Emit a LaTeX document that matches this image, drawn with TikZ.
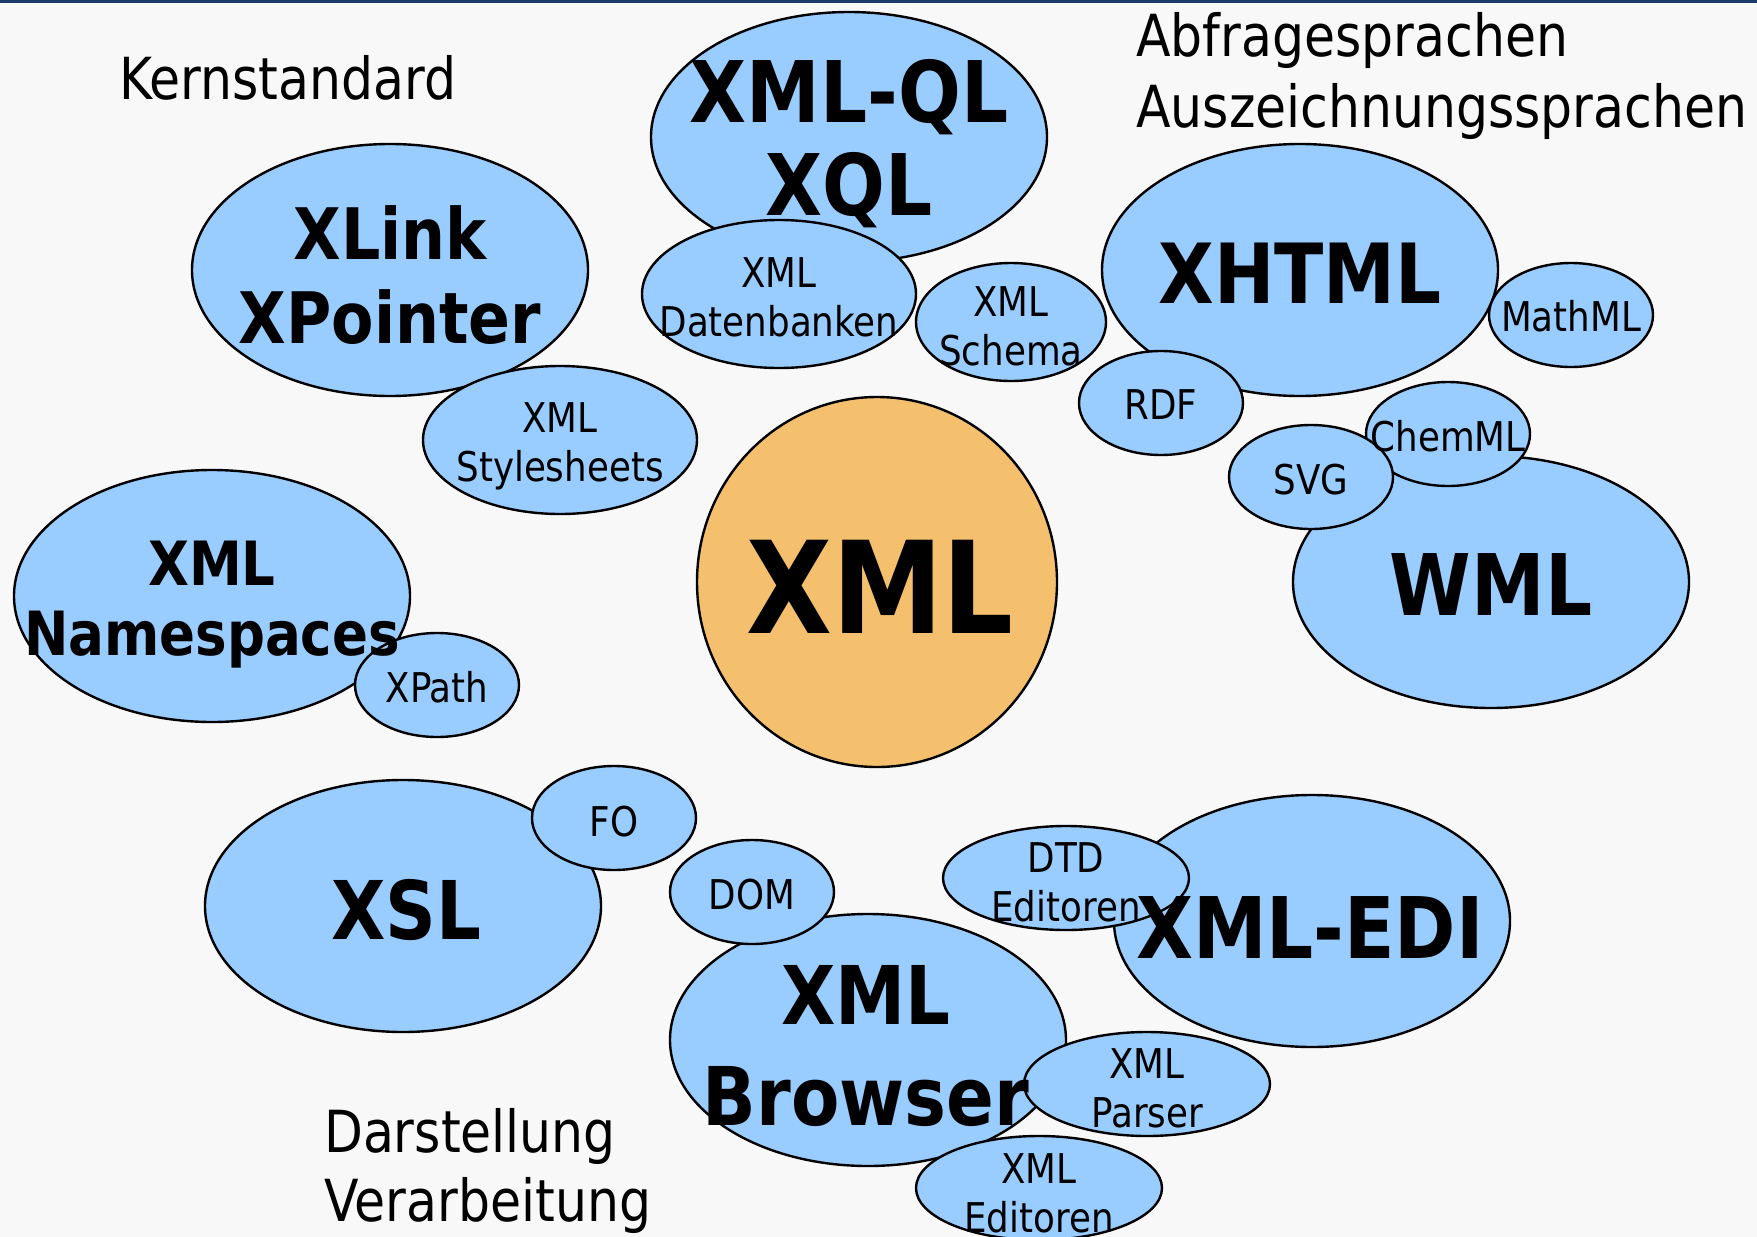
\documentclass[tikz,border=0pt]{standalone}
\usepackage{fontspec}
\setmainfont{DejaVu Sans}[FakeStretch=0.87]
\usetikzlibrary{shapes.geometric}
\definecolor{bubbleblue}{HTML}{99CCFF}
\definecolor{coreorange}{HTML}{F5C06E}
\definecolor{bgcol}{HTML}{F8F8F8}
\definecolor{topline}{HTML}{1C3C6C}
\tikzset{
  bubble/.style={ellipse, draw=black, line width=2.4pt, fill=bubbleblue, inner sep=0pt},
  bigtxt/.style={font=\bfseries\fontsize{83}{93}\selectfont, align=center, inner sep=0pt},
  smalltxt/.style={font=\fontsize{41}{49}\selectfont, align=center, inner sep=0pt},
  cattxt/.style={font=\fontsize{58}{71}\selectfont, inner sep=0pt, anchor=base west},
}
\newcommand{\bub}[5]{\node[bubble,#5, minimum width=#3pt, minimum height=#4pt] (#1) at (#2) {};}
\begin{document}
\begin{tikzpicture}[x=1pt,y=-1pt]
\useasboundingbox (0,0) rectangle (1757,1237);
\clip (0,0) rectangle (1757,1237);
\fill[bgcol] (0,0) rectangle (1757,1237);
\fill[topline] (0,0) rectangle (1757,3);
% ellipses (back to front)
\bub{xmlql}{849,137}{396}{250}{}
\bub{datenbanken}{779,294}{274}{148}{}
\bub{xlink}{390,270}{396}{252}{}
\bub{stylesheets}{560,440}{274}{148}{}
\bub{schema}{1011,322}{190}{118}{}
\bub{xhtml}{1300,270}{396}{252}{}
\bub{mathml}{1571,315}{164}{104}{}
\bub{rdf}{1161,403}{164}{104}{}
\bub{wml}{1491,582}{396}{252}{}
\bub{chemml}{1448,434}{164}{104}{}
\bub{svg}{1311,477}{164}{104}{}
\bub{xml}{877,582}{360}{370}{fill=coreorange}
\bub{namespaces}{212,596}{396}{252}{}
\bub{xpath}{437,685}{164}{104}{}
\bub{xsl}{403,906}{396}{252}{}
\bub{fo}{614,818}{164}{104}{}
\bub{browser}{868,1040}{396}{252}{}
\bub{dom}{752,892}{164}{104}{}
\bub{edi}{1312,921}{396}{252}{}
\bub{dtd}{1066,878}{246}{104}{}
\bub{parser}{1147,1084}{246}{104}{}
\bub{editoren}{1039,1188}{246}{104}{}
% labels
\node[bigtxt,font=\bfseries\fontsize{85}{93}\selectfont] (t-xmlql) at (849,144) {XML-QL\\XQL};
\node[bigtxt,font=\bfseries\fontsize{71}{84}\selectfont] (t-xlink) at (390,275) {XLink\\XPointer};
\node[bigtxt] (t-xhtml) at (1300,273) {XHTML};
\node[bigtxt,font=\bfseries\fontsize{85}{93}\selectfont] (t-wml) at (1491,585) {WML};
\node[bigtxt,font=\bfseries\fontsize{128}{130}\selectfont] (t-xml) at (880,587) {XML};
\node[bigtxt,font=\bfseries\fontsize{61}{70}\selectfont] (t-ns) at (212,605) {XML\\Namespaces};
\node[bigtxt,font=\bfseries\fontsize{81}{101}\selectfont] (t-browser) at (866,1046) {XML\\Browser};
\node[bigtxt,font=\bfseries\fontsize{81}{93}\selectfont] (t-xsl) at (406,910) {XSL};
\node[bigtxt,font=\bfseries\fontsize{85}{93}\selectfont] (t-edi) at (1310,928) {XML-EDI};
\node[smalltxt] (t-db) at (779,297) {XML\\Datenbanken};
\node[smalltxt] (t-ss) at (560,446) {XML\\Stylesheets};
\node[smalltxt] (t-schema) at (1011,326) {XML\\Schema};
\node[smalltxt] (t-mathml) at (1571,316) {MathML};
\node[smalltxt] (t-rdf) at (1161,405) {RDF};
\node[smalltxt] (t-chemml) at (1448,436) {ChemML};
\node[smalltxt] (t-svg) at (1311,480) {SVG};
\node[smalltxt] (t-xpath) at (437,687) {XPath};
\node[smalltxt] (t-fo) at (614,822) {FO};
\node[smalltxt] (t-dom) at (752,895) {DOM};
\node[smalltxt] (t-dtd) at (1066,882) {DTD\\Editoren};
\node[smalltxt] (t-parser) at (1147,1088) {XML\\Parser};
\node[smalltxt] (t-editoren) at (1039,1193) {XML\\Editoren};
% category labels
\node[cattxt] (kern) at (119,99) {Kernstandard};
\node[cattxt] (abf) at (1136,56) {Abfragesprachen};
\node[cattxt] (ausz) at (1136,127) {Auszeichnungssprachen};
\node[cattxt] (darst) at (324,1152) {Darstellung};
\node[cattxt] (verarb) at (324,1221) {Verarbeitung};
\end{tikzpicture}
\end{document}
